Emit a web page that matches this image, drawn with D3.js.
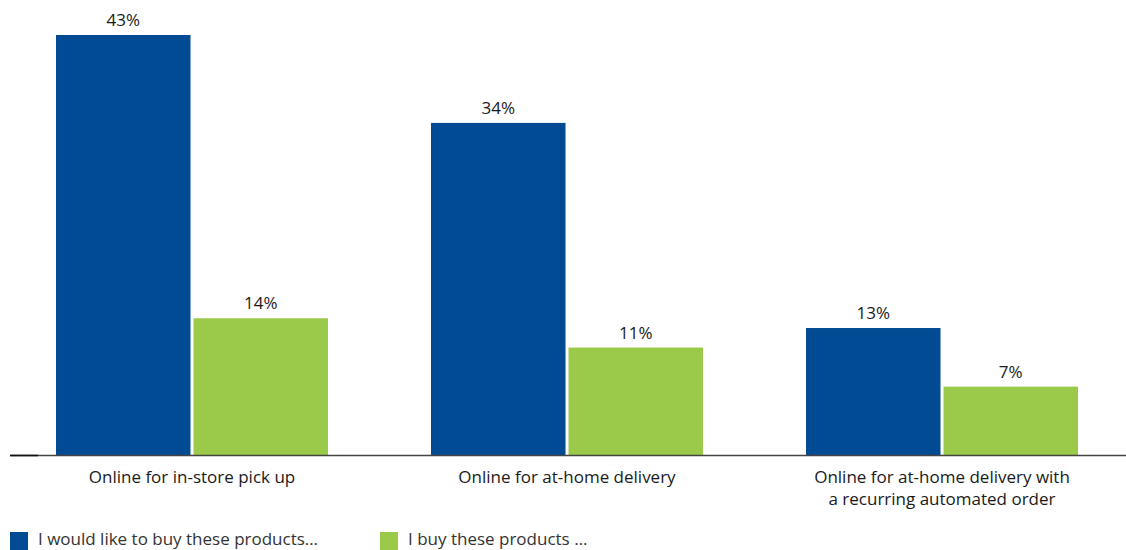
<!DOCTYPE html>
<html><head><meta charset="utf-8">
<script src="https://cdn.jsdelivr.net/npm/d3@7"></script>
<style>body{margin:0;background:#fff}svg{display:block;font-family:"Open Sans","Noto Sans",sans-serif}</style>
</head><body><svg id="c" width="1126" height="550"></svg>
<script>
const categories = ["Online for in-store pick up", "Online for at-home delivery", "Online for at-home delivery with|a recurring automated order"];
const seriesNames = ["I would like to buy these products…", "I buy these products …"];
const wouldLike = [43, 34, 13];
const buy = [14, 11, 7];
const colors = ["#004b93", "#9bc94a"];

const svg = d3.select("#c");
const baseY = 455;
const x0 = d3.scaleBand().domain(categories).range([4.5, 1129.5]).paddingInner(0.2747).paddingOuter(0.13735);
const x1 = d3.scaleBand().domain(seriesNames).range([0, x0.bandwidth()]).paddingInner(0.0218);
const y = d3.scaleLinear().domain([0, 43]).range([baseY, 35]);

const data = categories.map((c, i) => ({cat: c, vals: [wouldLike[i], buy[i]]}));
const g = svg.selectAll("g.grp").data(data).join("g").attr("class", "grp")
  .attr("transform", d => `translate(${x0(d.cat)},0)`);
g.selectAll("rect").data(d => d.vals.map((v, j) => ({s: seriesNames[j], v, j}))).join("rect")
  .attr("x", d => x1(d.s)).attr("width", x1.bandwidth())
  .attr("y", d => y(d.v)).attr("height", d => baseY - y(d.v))
  .attr("fill", d => colors[d.j]);
g.selectAll("text.val").data(d => d.vals.map((v, j) => ({s: seriesNames[j], v, j}))).join("text")
  .attr("class", "val")
  .attr("x", d => x1(d.s) + x1.bandwidth() / 2).attr("y", d => y(d.v) - 9)
  .attr("text-anchor", "middle").attr("font-size", 17).attr("fill", "#1a1a1a")
  .text(d => d.v + "%");

// baseline
svg.append("line").attr("x1", 10).attr("x2", 1126).attr("y1", baseY + 0.5).attr("y2", baseY + 0.5)
  .attr("stroke", "#444").attr("stroke-width", 1.3);
svg.append("line").attr("x1", 10).attr("x2", 38).attr("y1", baseY + 0.5).attr("y2", baseY + 0.5)
  .attr("stroke", "#111").attr("stroke-width", 1.6);

// category labels
const xa = svg.append("g");
categories.forEach(c => {
  const lines = c.split("|");
  const t = xa.append("text").attr("x", x0(c) + x0.bandwidth() / 2).attr("y", 483)
    .attr("text-anchor", "middle").attr("font-size", 17).attr("fill", "#1a1a1a");
  lines.forEach((l, k) => t.append("tspan").attr("x", x0(c) + x0.bandwidth() / 2).attr("dy", k ? 22 : 0).text(l));
});

// legend
const legX = [10, 380];
seriesNames.forEach((s, i) => {
  svg.append("rect").attr("x", legX[i]).attr("y", 532).attr("width", 18).attr("height", 18).attr("fill", colors[i]);
  svg.append("text").attr("x", legX[i] + 28).attr("y", 545).attr("font-size", 17).attr("fill", "#333").text(s);
});
</script></body></html>
